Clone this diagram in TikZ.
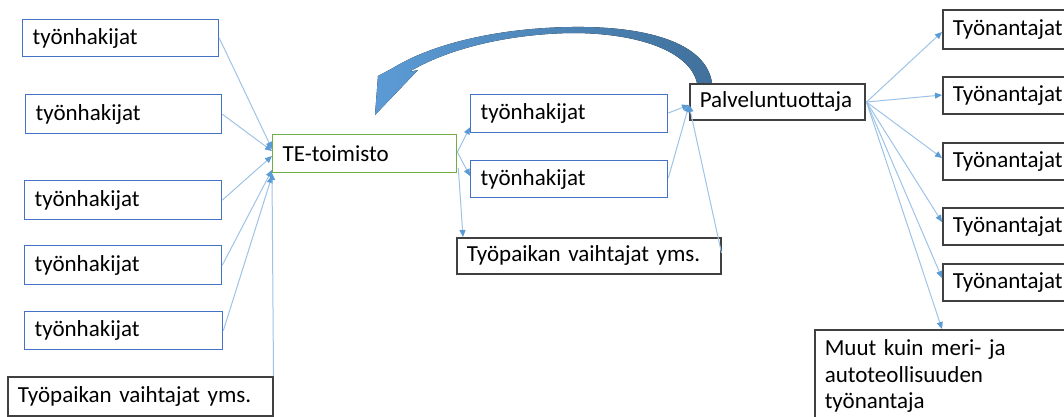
\documentclass[tikz,border=0pt]{standalone}
\usepackage{fontspec}
\setmainfont{Carlito}
\usetikzlibrary{arrows.meta,calc}
\definecolor{boxblue}{HTML}{4472C4}
\definecolor{boxgreen}{HTML}{70AD47}
\definecolor{boxdark}{HTML}{404040}
\definecolor{linkblue}{HTML}{9DC3E6}
\definecolor{tipblue}{HTML}{5B9BD5}
\definecolor{arrowdark}{HTML}{41719C}
\tikzset{
  nbox/.style={draw, rectangle, anchor=north west, inner xsep=10pt, inner ysep=0pt,
    align=left, line width=1.3pt, font=\fontsize{23}{26.5}\selectfont},
  bluebox/.style={nbox, draw=boxblue},
  greenbox/.style={nbox, draw=boxgreen},
  darkbox/.style={nbox, draw=boxdark, line width=1.5pt},
  conn/.style={draw=linkblue, line width=1pt, -{Triangle[length=7pt,width=6pt,color=tipblue]}},
  plain/.style={draw=linkblue, line width=1pt}
}
\begin{document}
\begin{tikzpicture}[x=1pt,y=-1pt]
\useasboundingbox (0,0) rectangle (1064,416);
\clip (0,0) rectangle (1064,416);
% left column
\node[bluebox, text width=176pt, minimum height=37pt] (L1) at (22,19) {työnhakijat};
\node[bluebox, text width=176pt, minimum height=39pt] (L2) at (25,94) {työnhakijat};
\node[bluebox, text width=177pt, minimum height=39pt] (L3) at (24,180) {työnhakijat};
\node[bluebox, text width=177pt, minimum height=39pt] (L4) at (24,245) {työnhakijat};
\node[bluebox, text width=178pt, minimum height=38pt] (L5) at (24,311) {työnhakijat};
\node[darkbox, text width=245pt, minimum height=39pt] (L6) at (7,376) {Työpaikan vaihtajat yms.};
% TE
\node[greenbox, text width=164pt, minimum height=38pt] (TE) at (272,134) {TE-toimisto};
% middle
\node[bluebox, text width=177pt, minimum height=38pt] (M1) at (470,94) {työnhakijat};
\node[bluebox, text width=177pt, minimum height=37pt] (M2) at (470,160) {työnhakijat};
\node[darkbox, text width=244pt, minimum height=36pt] (M3) at (456,237) {Työpaikan vaihtajat yms.};
% provider
\node[darkbox, text width=155pt, minimum height=36pt] (P) at (689,83) {Palveluntuottaja};
% right
\node[darkbox, text width=140pt, minimum height=39pt] (T1) at (942,9) {Työnantajat};
\node[darkbox, text width=140pt, minimum height=37pt] (T2) at (942,76) {Työnantajat};
\node[darkbox, text width=140pt, minimum height=37pt] (T3) at (942,142) {Työnantajat};
\node[darkbox, text width=140pt, minimum height=37pt] (T4) at (942,207) {Työnantajat};
\node[darkbox, text width=140pt, minimum height=37pt] (T5) at (942,263) {Työnantajat};
\node[darkbox, text width=260pt, inner ysep=10pt] (MU) at (814,329) {Muut kuin meri- ja\\autoteollisuuden\\työnantaja\\ };

% connectors left -> TE
\coordinate (te1) at ($(TE.north west)+(0,15)$);
\coordinate (te2) at ($(TE.north west)+(0,17)$);
\coordinate (te3) at ($(TE.north west)+(0,22)$);
\coordinate (te4) at ($(TE.north west)+(0,36)$);
\coordinate (te5) at ($(TE.north west)+(0,42)$);
\coordinate (te6) at ($(TE.north west)+(0,39)$);
\draw[conn] (L1.east) -- (te1);
\draw[conn] (L2.east) -- (te2);
\draw[conn] (L3.east) -- (te3);
\draw[conn] (L4.east) -- (te4);
\draw[conn] (L5.east) -- (te5);
\draw[conn] (L6.north east) -- (te6);
% TE -> middle
\coordinate (teo) at ($(TE.north east)+(0,18)$);
\coordinate (teb) at ($(TE.north east)+(1,34)$);
\draw[conn] (teo) -- ($(M1.south west)+(0,-6)$);
\draw[conn] (teo) -- ($(M2.north west)+(0,16)$);
\draw[conn] (teb) -- ($(M3.north west)+(7,0)$);
% middle -> provider
\coordinate (pin) at ($(P.north west)+(0,22)$);
\draw[conn] ($(M1.north east)+(0,19)$) -- (pin);
\draw[conn] ($(M2.north east)+(0,18)$) -- (pin);
\draw[conn] ($(M3.north east)+(0,16)$) -- (pin);
% provider -> employers
\coordinate (pout) at ($(P.north east)+(1,19)$);
\draw[conn] (pout) -- ($(T1.north west)+(0,23)$);
\draw[conn] (pout) -- ($(T2.north west)+(0,19)$);
\draw[conn] (pout) -- ($(T3.north west)+(0,16)$);
\draw[conn] (pout) -- ($(T4.north west)+(0,15)$);
\draw[conn] (pout) -- ($(T5.north west)+(0,15)$);
\draw[conn] (pout) -- ($(MU.north west)+(128,0)$);

% big curved arrow from provider back to TE
\fill[left color=tipblue, right color=arrowdark, shading angle=90]
  (712,83) .. controls (706,42) and (645,26) .. (572,27)
  .. controls (495,28) and (430,45) .. (393,68)
  -- (378,76) -- (375,115) -- (418,70) -- (409,72)
  .. controls (445,50) and (505,34) .. (572,33)
  .. controls (640,33) and (690,52) .. (697,83) -- cycle;
\end{tikzpicture}
\end{document}
